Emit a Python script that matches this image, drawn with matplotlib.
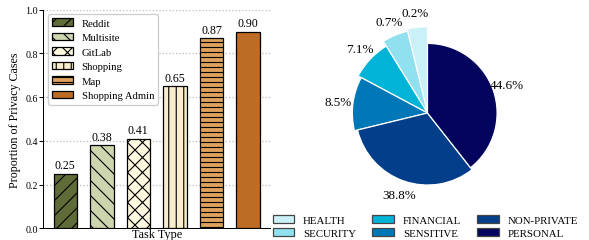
import numpy as np
import matplotlib
matplotlib.use("Agg")
import matplotlib.pyplot as plt

plt.rcParams['font.family'] = 'serif'
plt.rcParams['font.serif'] = ['Liberation Serif', 'DejaVu Serif']
plt.rcParams['hatch.linewidth'] = 0.9

# bar chart data
tasks = ['Reddit', 'Multisite', 'GitLab', 'Shopping', 'Map', 'Shopping Admin']
privacy_prop = [0.25, 0.38, 0.41, 0.65, 0.87, 0.90]
bar_colors = ['#606c38', '#ccd5ae', '#fefae0', '#faedcd', '#dda15e', '#bc6c25']
bar_hatches = ['//', '\\\\', 'xx', '||', '---', '']

# pie data (angular share as drawn, labels as printed)
categories = ['HEALTH', 'SECURITY', 'FINANCIAL', 'SENSITIVE', 'NON-PRIVATE', 'PERSONAL']
pct_labels = ['0.2%', '0.7%', '7.1%', '8.5%', '38.8%', '44.6%']
wedge_share = [3.8, 5.0, 8.4, 11.6, 31.8, 39.4]
pie_colors = ['#caf0f8', '#90e0ef', '#00b4d8', '#0077b6', '#023e8a', '#03045e']
wedge_radius = [1.24, 1.21, 1.13, 1.08, 1.035, 1.0]

W, H = 589, 241
fig = plt.figure(figsize=(W / 90, H / 90), dpi=90)

## bars
ax = fig.add_axes([43.3 / W, 11.7 / H, (270 - 43.3) / W, 218.6 / H])
x = np.arange(len(tasks))
for i in range(len(tasks)):
    ax.bar(x[i], privacy_prop[i], width=0.64, color=bar_colors[i],
           edgecolor='black', linewidth=1, hatch=bar_hatches[i],
           label=tasks[i], zorder=3)
    ax.text(x[i], privacy_prop[i] + 0.01, f'{privacy_prop[i]:.2f}',
            ha='center', va='bottom', fontsize=9.5)

ax.set_xlim(-0.6, 5.6)
ax.set_ylim(0, 1)
ax.set_yticks(np.arange(0, 1.01, 0.2))
ax.set_yticklabels([f'{v:.1f}' for v in np.arange(0, 1.01, 0.2)], fontsize=8)
ax.tick_params(axis='y', length=3, pad=1.5)
ax.set_xticks([])
ax.yaxis.grid(True, linestyle=':', color='#bbbbbb', linewidth=1, zorder=0)
ax.spines['top'].set_visible(False)
ax.spines['right'].set_visible(False)
ax.set_xlabel('Task Type', fontsize=9.8, labelpad=0)
ax.set_ylabel('Proportion of Privacy Cases', fontsize=9.6, labelpad=3)
ax.legend(loc='upper left', fontsize=8.5, labelspacing=0.48, handlelength=2.0,
          handleheight=0.7, borderaxespad=0.4, framealpha=1, edgecolor='#cccccc')

## pie
pax = fig.add_axes([327.5 / W, 27 / H, 200 / W, 200 / H])
wedges, _ = pax.pie(wedge_share, colors=pie_colors, startangle=90, counterclock=True,
                    wedgeprops=dict(edgecolor='white', linewidth=1))
for w, r, lab in zip(wedges, wedge_radius, pct_labels):
    w.set_radius(r)
    t = np.deg2rad((w.theta1 + w.theta2) / 2)
    d = r + 0.21
    pax.text(d * np.cos(t), d * np.sin(t), lab, ha='center', va='center', fontsize=10.5)
pax.set_xlim(-1.437, 1.437)
pax.set_ylim(-1.437, 1.437)
pax.set_aspect('equal')
pax.axis('off')

leg = fig.legend(wedges, categories, loc='upper left', ncol=3, frameon=False,
                 bbox_to_anchor=(265 / W, 1 - 208 / H), fontsize=8.7,
                 handlelength=2.0, handleheight=0.8, handletextpad=0.8,
                 columnspacing=1.5, labelspacing=0.3, borderpad=0.2)
for h in leg.legend_handles:
    h.set_edgecolor('#444444')
    h.set_linewidth(1)

fig.savefig('out.png', dpi=90)
